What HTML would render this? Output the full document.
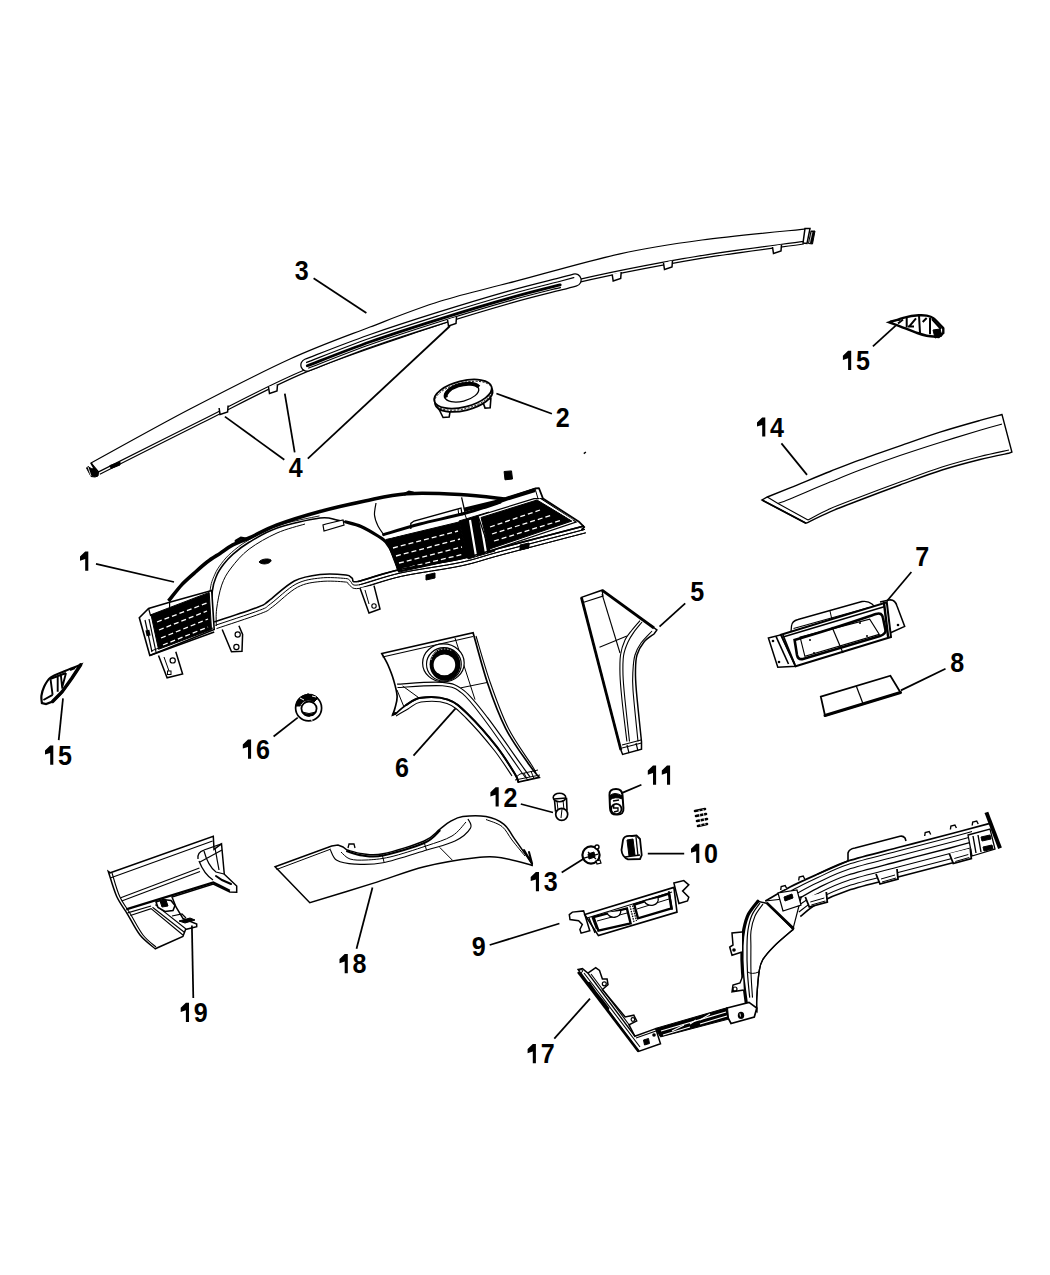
<!DOCTYPE html>
<html><head><meta charset="utf-8">
<style>
html,body{margin:0;padding:0;background:#fff;width:1050px;height:1275px;overflow:hidden}
svg{display:block}
.lb{font-family:"Liberation Sans",sans-serif;font-weight:bold;font-size:27px;fill:#000}
.ld{stroke:#000;stroke-width:1.75;fill:none}
.o{stroke:#000;stroke-width:2;fill:#fff;stroke-linejoin:round}
.oo{stroke:#000;stroke-width:1.6;fill:none;stroke-linejoin:round}
.t{stroke:#000;stroke-width:1;fill:none}
.tw{stroke:#000;stroke-width:1;fill:#fff}
.f{fill:#000;stroke:none}
.fs{fill:#000;stroke:#000;stroke-width:1;stroke-linejoin:round}
.k{stroke:#000;stroke-width:3;fill:none;stroke-linecap:round}
</style></head><body>
<svg width="1050" height="1275" viewBox="0 0 1050 1275">
<rect width="1050" height="1275" fill="#fff"/>
<path class="o" d="M91.0 463.0 C107.5 454.0 156.8 426.3 190.0 409.0 C223.2 391.7 260.0 372.7 290.0 359.0 C320.0 345.3 345.0 336.6 370.0 327.0 C395.0 317.4 415.8 308.9 440.0 301.3 C464.2 293.7 485.0 289.3 515.0 281.4 C545.0 273.5 588.8 260.7 620.0 253.8 C651.2 246.9 670.4 244.2 702.0 240.0 C733.6 235.8 791.6 230.5 809.5 228.6 L803.4 241.4 C783.3 244.3 725.2 251.1 683.0 258.7 C640.8 266.2 593.8 275.1 550.0 286.7 C506.2 298.3 461.0 314.6 420.0 328.5 C379.0 342.4 340.5 354.8 303.8 370.2 C267.1 385.6 234.2 404.1 200.0 421.0 C165.8 437.9 115.5 463.4 98.6 471.9 Z" style="stroke-width:1.2"/>
<path class="t" d="M99.8 474.2 C116.7 465.7 167.0 440.3 201.2 423.3 C235.3 406.4 268.2 388.0 304.8 372.6 C341.4 357.2 379.9 344.9 420.8 331.0 C461.8 317.1 506.9 300.8 550.7 289.2 C594.4 277.6 641.3 268.8 683.5 261.3 C725.6 253.7 783.7 246.9 803.8 244.0" style="stroke-width:1.2"/>
<path class="k" d="M307.0 365.0 C317.5 361.0 347.8 348.8 370.0 341.0 C392.2 333.2 416.7 325.3 440.0 318.0 C463.3 310.7 490.0 302.7 510.0 297.0 C530.0 291.3 549.2 286.8 560.0 284.0 C570.8 281.2 572.5 280.7 575.0 280.0" style="stroke-width:13.5;stroke-linecap:round"/>
<path class="k" d="M307.0 365.0 C317.5 361.0 347.8 348.8 370.0 341.0 C392.2 333.2 416.7 325.3 440.0 318.0 C463.3 310.7 490.0 302.7 510.0 297.0 C530.0 291.3 549.2 286.8 560.0 284.0 C570.8 281.2 572.5 280.7 575.0 280.0" style="stroke:#fff;stroke-width:11;stroke-linecap:round"/>
<path class="t" d="M306.1 362.6 C316.6 358.6 346.9 346.4 369.1 338.5 C391.3 330.7 415.9 322.9 439.2 315.5 C462.6 308.2 489.3 300.2 509.3 294.5 C529.3 288.8 548.5 284.3 559.3 281.5 C570.2 278.6 571.8 278.2 574.3 277.5" style="stroke-width:1.2"/>
<path class="k" d="M307.3 365.8 C317.8 361.8 348.1 349.7 370.3 341.8 C392.5 334.0 416.9 326.2 440.3 318.9 C463.6 311.5 490.3 303.5 510.2 297.9 C530.2 292.2 551.9 287.0 560.2 284.9" style="stroke-width:2.8"/>
<path class="t" d="M308.2 368.2 C318.7 364.2 349.0 352.0 371.1 344.2 C393.3 336.4 417.7 328.6 441.0 321.2 C464.3 313.9 491.0 305.9 510.9 300.3 C530.9 294.6 552.5 289.5 560.9 287.3" style="stroke-width:1.2"/>
<path class="fs" d="M86.5 468 L88 466.5 L92 469 L94 468 L98.6 472 L98 476 L95 477 L91 476.5 Z"/>
<path class="t" d="M91 463 L95.7 471" style="stroke-width:1.6"/>
<path class="t" d="M88 467 L91 476" style="stroke:#fff;stroke-width:0.8"/>
<path class="fs" d="M110 465 l1 3.5 l9 -3.5 l0 -3.5"/>
<path class="tw" d="M805 228.5 L810 228.6 L807 243.4 L803 243 Z" style="stroke-width:1.5"/>
<path class="fs" d="M811 231 L815 231 L812.5 244 L808.5 243.5 Z"/>
<path class="t" d="M812 232 L809.5 243" style="stroke:#fff;stroke-width:0.8"/>
<path class="tw" d="M219.1 408.0 l1 6.5 l7.5 -2.5 l0.5 -6.5" style="stroke-width:1.5"/>
<path class="tw" d="M268.5 387.0 l1 6.5 l7.5 -2.5 l0.5 -6.5" style="stroke-width:1.5"/>
<path class="tw" d="M447.5 319.5 l1 6.5 l7.5 -2.5 l0.5 -6.5" style="stroke-width:1.5"/>
<path class="tw" d="M612.2 274.5 l1 6.5 l7.5 -2.5 l0.5 -6.5" style="stroke-width:1.5"/>
<path class="tw" d="M663.5 263.0 l1 6.5 l7.5 -2.5 l0.5 -6.5" style="stroke-width:1.5"/>
<path class="tw" d="M772.5 247.0 l1 6.5 l7.5 -2.5 l0.5 -6.5" style="stroke-width:1.5"/>
<g transform="translate(463,394) rotate(-14)"><path d="M-27 9 l2 9 l6 1 l3 -7 Z" class="tw" style="stroke-width:1.6"/><path d="M17 9 l1 10 l5 1 l3 -9 Z" class="tw" style="stroke-width:1.6"/><ellipse cx="0" cy="3.5" rx="29.5" ry="13" class="tw" style="stroke-width:1.8"/><ellipse cx="0" cy="0" rx="29.5" ry="13" class="tw" style="stroke-width:1.8"/><ellipse cx="0" cy="1.8" rx="29.5" ry="13" fill="none" stroke="#000" stroke-width="0.9" stroke-dasharray="2 1.5"/><ellipse cx="-1" cy="-1.5" rx="17.5" ry="8.5" fill="#fff" stroke="#000" stroke-width="1.3"/><path d="M-17.5 -0.5 A17.5 8.5 0 0 1 17 -3" fill="none" stroke="#000" stroke-width="4"/></g>
<path class="tw" d="M139.3 617.7 L148.6 608.5 L168.3 603.0 L191.4 572.0 L212.0 556.6 L236.0 541.0 L277.0 524.0 L320.0 511.0 L406.7 493.7 L460.0 494.5 L500.0 498.6 L507.0 498.6 L535.0 488.0 L539.0 488.0 L543.0 498.6 L578.6 521.4 L584.3 527.1 L581.4 533.0 L460.0 566.0 L400.0 576.0 L357.8 589.0 L348.0 582.0 L323.0 580.0 L294.3 588.0 L268.6 608.0 L258.3 613.0 L214.2 632.0 L149.8 655.5 Z" style="stroke:none"/>
<path class="k" d="M168.5 601.0 C170.7 598.4 177.1 589.8 181.4 585.1 C185.7 580.5 190.0 577.0 194.3 573.1 C198.6 569.2 202.8 565.3 207.1 562.0 C211.4 558.7 215.7 556.2 220.0 553.4 C224.3 550.5 228.0 547.5 232.8 544.9 C237.7 542.3 241.7 541.3 249.1 538.0 C256.5 534.7 265.2 529.4 277.0 525.0 C288.8 520.6 305.3 515.5 320.0 511.5 C334.7 507.5 350.6 504.0 365.0 501.0 C379.4 498.0 390.9 494.8 406.7 493.7 C422.5 492.6 443.6 493.6 460.0 494.5 C476.4 495.4 497.5 498.2 505.0 499.0" style="stroke-width:3.6;stroke-linecap:butt"/>
<path class="k" d="M236 541 l5 -3 l5 1" style="stroke-width:3"/>
<path class="k" d="M405 494 l4 -2 l4 1" style="stroke-width:3"/>
<path class="oo" d="M505.0 499.0 L535.0 488.5 L539.0 488.2 L543.0 498.6 L578.6 521.4 L584.3 527.1 L581.4 530.0" style="stroke-width:1.8"/>
<path class="t" d="M535.0 488.5 L538.0 498.6 L543.0 498.6"/>
<path class="oo" d="M212.0 624.0 C212.1 618.5 211.5 599.1 212.3 591.1 C213.1 583.1 214.8 580.1 216.6 575.7 C218.4 571.3 220.7 568.2 223.4 564.6 C226.1 561.0 228.5 558.0 232.8 554.3 C237.1 550.6 241.7 546.7 249.1 542.3 C256.5 537.9 265.4 532.0 277.2 528.0 C289.0 524.0 309.9 519.3 320.0 518.0 C330.1 516.7 331.2 519.0 338.0 520.4 C344.8 521.8 354.3 523.9 361.0 526.5 C367.7 529.1 373.8 533.4 378.0 536.0 C382.2 538.6 383.2 538.6 386.0 542.0 C388.8 545.4 392.4 551.7 394.5 556.2 C396.6 560.7 397.8 567.0 398.5 569.2" style="stroke-width:1.6"/>
<path class="t" d="M209.8 624.0 C209.9 618.5 209.3 599.1 210.1 590.9 C210.9 582.7 212.6 579.5 214.6 574.9 C216.5 570.2 218.8 567.0 221.6 563.3 C224.4 559.6 227.0 556.4 231.4 552.6 C235.7 548.8 240.5 544.9 248.0 540.4 C255.5 536.0 264.6 530.0 276.5 525.9 C288.4 521.8 312.3 517.5 319.5 515.9" style="stroke-width:0.9"/>
<path class="k" d="M346.0 522.0 C348.5 522.8 355.7 524.2 361.0 526.5 C366.3 528.8 373.8 533.4 378.0 536.0 C382.2 538.6 383.2 538.6 386.0 542.0 C388.8 545.4 392.4 551.7 394.5 556.2 C396.6 560.7 397.8 567.0 398.5 569.2" style="stroke-width:3.2"/>
<path class="t" d="M216.3 626.0 C216.4 623.2 215.7 615.9 216.6 609.1 C217.5 602.3 219.3 592.0 221.7 585.1 C224.1 578.2 226.5 574.0 231.1 568.0 C235.7 562.0 241.4 554.9 249.1 549.1 C256.8 543.3 267.7 537.2 277.0 533.0 C286.3 528.8 300.3 525.5 305.0 524.0"/>
<path class="t" d="M376.0 503.0 C375.8 505.0 374.2 511.2 374.5 515.0 C374.8 518.8 376.4 522.7 378.0 526.0 C379.6 529.3 383.0 533.5 384.0 535.0" style="stroke-width:1.2"/>
<path class="tw" d="M323 525 l1 6 l20 -6 l-1 -5 l-17 4 Z" style="stroke-width:1.2"/>
<path class="fs" d="M259 562 c2 -3 9 -4 12 -2 c1 3 -8 6 -12 2 Z"/>
<path class="oo" d="M214.2 622.0 C221.5 619.5 249.2 610.5 258.3 607.0 C267.4 603.5 262.6 605.3 268.6 601.0 C274.6 596.7 285.7 585.4 294.3 581.0 C302.9 576.6 311.4 575.5 320.0 574.5 C328.6 573.5 340.7 574.4 346.0 575.0 C351.3 575.6 350.0 576.9 352.0 578.0 C354.0 579.1 350.0 582.9 358.0 581.5 C366.0 580.1 383.0 573.2 400.0 569.5 C417.0 565.8 443.3 562.6 460.0 559.0 C476.7 555.4 479.3 553.5 500.0 548.0 C520.7 542.5 570.0 529.7 584.0 526.0" style="stroke-width:1.6"/>
<path class="t" d="M215.3 625.3 C222.7 622.8 250.3 613.8 259.6 610.3 C268.8 606.7 264.6 608.2 270.6 603.8 C276.7 599.5 287.6 588.4 295.9 584.1 C304.2 579.8 312.1 578.9 320.4 578.0 C328.7 577.0 340.6 578.0 345.6 578.5 C350.6 579.0 348.2 580.0 350.3 581.1 C352.5 582.2 350.2 586.3 358.6 584.9 C367.0 583.6 383.7 576.7 400.8 572.9 C417.8 569.2 444.0 566.0 460.7 562.4 C477.4 558.8 480.2 556.9 500.9 551.4 C521.6 545.9 570.9 533.1 584.9 529.4"/>
<path class="t" d="M216.5 628.6 C223.8 626.1 251.4 617.2 260.8 613.5 C270.2 609.9 266.6 611.1 272.7 606.7 C278.8 602.3 289.5 591.4 297.5 587.2 C305.5 583.0 312.9 582.3 320.8 581.5 C328.8 580.6 340.6 581.5 345.2 582.0 C349.9 582.4 346.3 583.1 348.7 584.2 C351.0 585.2 350.4 589.7 359.2 588.4 C368.0 587.1 384.5 580.1 401.5 576.3 C418.5 572.6 444.8 569.4 461.5 565.8 C478.2 562.2 481.1 560.3 501.8 554.8 C522.5 549.3 571.8 536.4 585.8 532.8"/>
<path class="t" d="M461.6 497.4 L465.3 513.5" style="stroke-width:1.3"/>
<path class="k" d="M383.6 534.6 C389.7 532.8 406.6 527.5 420.0 524.0 C433.4 520.5 450.7 517.1 464.0 513.5 C477.3 509.9 494.0 504.2 500.0 502.4" style="stroke-width:3"/>
<path class="t" d="M410.8 529.0 L410.8 523.4 L414.0 521.0 L461.0 508.0 L462.2 515.4" style="stroke-width:1.3"/>
<path class="t" d="M458.0 509.0 L459.0 516.0"/>
<path class="k" d="M464.0 509.8 L500.0 501.0 L507.0 498.6 L535.0 490.0" style="stroke-width:4;stroke-linecap:butt"/>
<path class="t" d="M464.0 512.0 L467.0 520.0"/>
<path class="tw" d="M139.3 617.7 L148.6 608.5 L169.6 602.3 L211.7 590.5 L214.2 629.5 L149.8 655.5 Z" style="stroke-width:1.6"/>
<path class="t" d="M148.6 608.5 L150.5 615.5 L169.6 609.0 L169.6 602.3" style="stroke-width:1.2"/>
<path class="fs" d="M151.0 614.7 L209.2 592.4 L211.5 629.5 L158.5 649.3 Z"/>
<path d="M157.0 622.0 L207.0 603.0" stroke="#fff" stroke-width="1.3" stroke-dasharray="5 3"/>
<path d="M159.0 630.0 L207.0 611.0" stroke="#fff" stroke-width="1.3" stroke-dasharray="5 3"/>
<path d="M161.0 638.0 L208.0 619.0" stroke="#fff" stroke-width="1.3" stroke-dasharray="5 3"/>
<path d="M163.0 645.0 L208.0 627.0" stroke="#fff" stroke-width="1.3" stroke-dasharray="5 3"/>
<path class="t" d="M145.0 620.0 L152.0 652.0" style="stroke-width:1.2"/>
<path class="t" d="M149.0 619.0 L156.0 652.0" style="stroke-width:1.2"/>
<rect x="146" y="630" width="4" height="6" fill="#000" transform="rotate(-12 148 633)"/>
<path class="fs" d="M386.0 539.5 L459.0 522.0 L467.8 557.0 L398.5 572.2 Z"/>
<path d="M393.0 548.0 L458.0 531.0" stroke="#fff" stroke-width="1.3" stroke-dasharray="5 3"/>
<path d="M396.0 556.0 L460.0 539.0" stroke="#fff" stroke-width="1.3" stroke-dasharray="5 3"/>
<path d="M399.0 563.0 L462.0 547.0" stroke="#fff" stroke-width="1.3" stroke-dasharray="5 3"/>
<path d="M402.0 569.0 L464.0 554.0" stroke="#fff" stroke-width="1.3" stroke-dasharray="5 3"/>
<path class="t" d="M390.0 537.0 L459.0 519.0" style="stroke:#fff;stroke-width:1.3"/>
<path class="fs" d="M459.0 521.0 L489.0 512.0 L495.0 551.0 L468.0 559.0 Z"/>
<path d="M470 520 L476 556 M480 517 L486 553" stroke="#fff" stroke-width="2.2"/>
<path class="tw" d="M478.0 516.0 L534.0 498.6 L541.0 498.6 L576.0 522.0 L490.0 551.0 Z" style="stroke-width:1.3"/>
<path class="fs" d="M481.0 517.5 L537.0 500.0 L572.0 521.0 L489.0 549.2 Z"/>
<path d="M490.0 527.0 L540.0 510.0" stroke="#fff" stroke-width="1.3" stroke-dasharray="5 3"/>
<path d="M492.0 534.0 L552.0 515.0" stroke="#fff" stroke-width="1.3" stroke-dasharray="5 3"/>
<path d="M494.0 541.0 L562.0 520.0" stroke="#fff" stroke-width="1.3" stroke-dasharray="5 3"/>
<path class="t" d="M539.0 499.0 L573.0 520.5" style="stroke:#fff;stroke-width:1.2"/>
<path class="fs" d="M426 575 l0 5 l9 -2 l0 -5 Z"/>
<path class="fs" d="M520 545 l0 5 l9 -2 l0 -5 Z"/>
<path class="oo" d="M358.0 581.5 C365.0 579.5 383.0 573.2 400.0 569.5 C417.0 565.8 443.3 562.6 460.0 559.0 C476.7 555.4 479.3 553.5 500.0 548.0 C520.7 542.5 570.0 529.7 584.0 526.0" style="stroke-width:1.6"/>
<path class="t" d="M359.0 584.9 C365.9 582.9 383.8 576.7 400.8 572.9 C417.7 569.2 444.0 566.0 460.7 562.4 C477.4 558.8 480.2 556.9 500.9 551.4 C521.6 545.9 570.9 533.1 584.9 529.4"/>
<path class="t" d="M359.9 588.2 C366.9 586.2 384.6 580.1 401.5 576.3 C418.4 572.6 444.8 569.4 461.5 565.8 C478.2 562.2 481.1 560.3 501.8 554.8 C522.5 549.3 571.8 536.4 585.8 532.8"/>
<path class="oo" d="M149.8 655.5 L214.2 632.0" style="stroke-width:1.8"/>
<path class="t" d="M151.0 651.0 L213.0 628.0"/>
<path class="tw" d="M158.5 655.5 L167.1 677.8 L182.6 674.0 L175.8 651.8" style="stroke-width:1.5"/>
<path class="t" d="M164 657 l5 14"/>
<circle cx="172.7" cy="660.4" r="2.6" fill="#fff" stroke="#000" stroke-width="1.2"/><rect x="167.5" y="671" width="3.5" height="3.5" fill="#fff" stroke="#000" stroke-width="1"/>
<path class="tw" d="M222.2 629.5 L231.5 651.8 L242.0 651.2 L242.6 634.5 L238.9 625.8" style="stroke-width:1.5"/>
<circle cx="237.7" cy="634.5" r="2.6" fill="#fff" stroke="#000" stroke-width="1.2"/><circle cx="236.4" cy="647" r="2.6" fill="#fff" stroke="#000" stroke-width="1.2"/>
<path class="tw" d="M360.0 588.0 L369.0 613.0 L380.0 609.0 L374.0 585.6" style="stroke-width:1.5"/>
<path class="t" d="M365 590 l4 14"/>
<circle cx="374" cy="606" r="2.2" fill="#fff" stroke="#000" stroke-width="1.1"/>
<path class="tw" d="M767.3 497.0 C771.1 495.5 779.5 492.1 790.0 487.8 C800.5 483.6 818.3 476.1 830.0 471.5 C841.7 466.9 848.3 464.2 860.0 459.9 C871.7 455.6 886.7 450.4 900.0 445.8 C913.3 441.2 926.7 436.3 940.0 432.1 C953.3 427.9 969.7 423.3 980.0 420.4 C990.3 417.5 998.3 415.5 1002.0 414.5 L1011.9 452 L1008.7 453.3 C1003.9 454.3 991.1 456.7 980.0 459.5 C968.9 462.3 955.3 465.8 942.0 470.0 C928.7 474.2 913.7 480.0 900.0 485.0 C886.3 490.0 871.7 495.5 860.0 500.0 C848.3 504.5 839.0 507.9 830.0 511.8 C821.0 515.7 810.0 521.3 806.0 523.2 L762 500 Z" style="stroke-width:1.4"/>
<path class="t" d="M778.0 503.5 C780.0 502.8 781.3 502.6 790.0 499.0 C798.7 495.4 818.3 486.9 830.0 482.1 C841.7 477.3 848.3 474.4 860.0 470.0 C871.7 465.6 886.7 460.2 900.0 455.6 C913.3 451.0 926.7 446.7 940.0 442.5 C953.3 438.3 969.7 433.3 980.0 430.2 C990.3 427.1 998.3 425.0 1002.0 424.0" style="stroke-width:1.1"/>
<path class="t" d="M1009.0 450.0 C1004.2 451.1 991.2 453.7 980.0 456.5 C968.8 459.3 955.3 462.8 942.0 467.0 C928.7 471.2 913.7 477.0 900.0 482.0 C886.3 487.0 871.7 492.5 860.0 497.0 C848.3 501.5 838.7 505.0 830.0 508.8 C821.3 512.6 811.7 518.1 808.0 520.0" style="stroke-width:1.1"/>
<path class="t" d="M767.3 497.0 L778.0 503.5 L808.0 520.0" style="stroke-width:1.1"/>
<path class="t" d="M762.0 500.0 L806.0 523.2" style="stroke-width:1.8"/>
<path class="tw" d="M889.3 322.3 C892.0 321.5 900.4 318.5 905.3 317.3 C910.2 316.1 915.1 315.6 918.7 315.3 C922.3 315.0 924.3 315.2 926.7 315.7 C929.1 316.2 930.5 316.2 933.3 318.3 C936.1 320.4 941.6 326.6 943.3 328.3 L943.3 333 L938.7 337 L938.7 337.0 C936.7 336.8 930.3 336.4 926.7 335.7 C923.1 335.0 921.8 334.6 917.3 333.0 C912.8 331.4 904.7 328.1 900.0 326.3 C895.3 324.5 891.1 323.0 889.3 322.3 Z" style="stroke-width:2.4"/>
<path class="t" d="M906.7 317 L906.7 327.5 M919 315.5 L920 333 M930 317.7 L930 334.3 M916 318.3 L909.3 326.3 M926.7 318 L922.7 322 M908 326.5 L914 326.5 M903 319.5 L898 323.5 M932 319 L941 329" style="stroke-width:2"/>
<path class="fs" d="M933 330 L940 329 L942 336 L935 338 Z"/>
<path class="t" d="M890 321.5 L900 320" style="stroke-width:1.4"/>
<path class="tw" d="M880 602 L889 600 Q895 599 897 606 L904.7 626.4 L890 633" style="stroke-width:1.5"/>
<circle cx="898" cy="625" r="1.3" fill="#000"/>
<path class="tw" d="M791 632 L791.5 626 Q792 621 798 619.5 L862 601.5 Q868 600.5 872 604 L877 609 L880 625 L795 650 Z" style="stroke-width:1.3"/>
<path class="t" d="M793.5 628.5 L869.0 607.5" style="stroke-width:1.1"/>
<path class="t" d="M830.0 611.0 L832.0 620.0"/>
<path class="tw" d="M768.4 638.0 L781.0 634.8 L795.6 666.3 L777.8 667.3 Z" style="stroke-width:1.5"/>
<circle cx="773" cy="641" r="1.3" fill="#000"/><circle cx="779" cy="662" r="1.3" fill="#000"/>
<path class="tw" d="M781.0 634.8 L886.8 602.3 L891.0 637.0 L795.6 666.3 Z" style="stroke-width:2"/>
<path class="t" d="M783.0 637.0 L885.0 606.5" style="stroke-width:1.4"/>
<path class="k" d="M884.0 603.0 L888.0 636.0" style="stroke-width:2.4"/>
<path class="tw" d="M794.6 640.0 C802.2 637.7 826.4 630.3 840.0 626.0 C853.6 621.7 870.0 616.0 876.0 614.0 Q882 612 883 618 L885.5 630 Q886 634 880 636 L803 659 Q798 660 797 655 Z" style="stroke-width:2.6"/>
<path class="t" d="M800.1 637.1 L869.7 619.2 L879.3 634.4 L804.9 656.4 Z" style="stroke-width:1.1"/>
<path class="t" d="M776.0 636.4 L788.5 664.0" style="stroke-width:1.6"/>
<path class="t" d="M783.0 635.0 L794.7 664.0" style="stroke-width:1.6"/>
<path class="t" d="M832.0 627.0 L843.0 653.0" style="stroke-width:1.2"/>
<circle cx="814" cy="653" r="1" fill="#000"/><circle cx="867" cy="636" r="1" fill="#000"/><circle cx="810" cy="640" r="1" fill="#000"/><circle cx="860" cy="623" r="1" fill="#000"/>
<path class="tw" d="M820.8 696.7 L890.4 675.7 L900.5 692.5 L825.0 715.5 Z" style="stroke-width:1.8"/>
<path class="k" d="M825.0 715.5 L900.5 692.5" style="stroke-width:3"/>
<path class="t" d="M856.4 686.2 L862.7 703.0" style="stroke-width:1.2"/>
<path class="tw" d="M581.4 597.4 L602.0 590.2 L656.9 630.0 L654.0 634.0 L654.0 634.0 C652.3 635.3 646.8 638.5 644.0 642.0 C641.2 645.5 638.4 650.3 637.0 655.0 C635.6 659.7 635.6 664.2 635.5 670.0 C635.4 675.8 635.3 678.1 636.3 690.0 C637.3 701.9 640.6 732.9 641.5 741.5 L641.5 749.2 L622.6 754.4 L620.9 750 Z" style="stroke-width:1.5"/>
<path class="k" d="M581.4 597.4 L620.9 750.0" style="stroke-width:2.8;stroke-linecap:butt"/>
<path class="k" d="M602.0 590.2 L654.0 628.0" style="stroke-width:2.8;stroke-linecap:butt"/>
<path class="t" d="M583.0 602.5 L603.0 596.0 L602.0 590.2" style="stroke-width:1.2"/>
<path class="t" d="M602.0 594.0 L620.0 653.0" style="stroke-width:1.1"/>
<path class="t" d="M599.5 647.2 L626.9 636.0" style="stroke-width:1.1"/>
<path class="t" d="M640.0 620.6 C638.7 622.2 634.5 626.8 632.0 630.0 C629.5 633.2 626.9 635.8 625.0 640.0 C623.1 644.2 621.3 649.2 620.5 655.0 C619.7 660.8 619.8 667.5 620.0 675.0 C620.2 682.5 620.9 688.9 622.0 700.0 C623.1 711.1 626.1 734.6 626.9 741.5" style="stroke-width:1.1"/>
<path class="t" d="M642.0 622.0 C640.7 623.7 636.3 628.7 634.0 632.0 C631.7 635.3 629.8 638.0 628.0 642.0 C626.2 646.0 624.3 650.5 623.5 656.0 C622.7 661.5 622.8 667.7 623.0 675.0 C623.2 682.3 623.9 688.9 625.0 700.0 C626.1 711.1 628.8 734.6 629.5 741.5" style="stroke-width:1.1"/>
<path class="t" d="M652.0 631.0 C650.2 633.0 643.8 639.0 641.0 643.0 C638.2 647.0 636.3 650.5 635.0 655.0 C633.7 659.5 633.3 664.2 633.0 670.0 C632.7 675.8 632.2 678.1 633.0 690.0 C633.8 701.9 637.2 732.9 638.0 741.5" style="stroke-width:1.1"/>
<path class="t" d="M622.0 745.0 L641.0 740.0" style="stroke-width:1.1"/>
<path class="t" d="M622.0 748.0 L641.5 743.0" style="stroke-width:1.1"/>
<path class="t" d="M627.0 745.0 L629.0 753.0" style="stroke-width:1.1"/>
<path class="t" d="M636.0 743.0 L638.0 751.0" style="stroke-width:1.1"/>
<path class="tw" d="M381.8 653.5 C382.8 655.4 386.1 660.6 388.0 665.0 C389.9 669.4 392.0 674.5 393.5 679.7 C395.0 684.9 396.9 691.3 397.1 696.0 C397.4 700.7 395.8 704.8 395.0 708.0 C394.2 711.2 393.0 713.8 392.6 715.0 L395.3 714.0 C397.1 712.5 402.0 707.7 406.2 705.0 C410.4 702.3 413.8 698.7 420.7 697.8 C427.6 696.9 440.0 696.9 447.8 699.6 C455.6 702.3 459.6 706.1 467.7 714.0 C475.8 721.9 488.9 736.7 496.7 746.7 C504.5 756.7 511.2 767.9 514.8 773.8 C518.4 779.7 517.8 780.6 518.4 782.0 L539.2 777.4 L539.2 777.4 C537.5 775.3 534.8 772.9 529.2 764.8 C523.6 756.7 512.6 742.2 505.7 728.6 C498.8 715.0 493.0 699.3 487.6 683.3 C482.2 667.3 475.5 641.1 473.1 632.7 Z" style="stroke-width:1.7"/>
<path class="t" d="M382.5 657.0 L473.0 636.5" style="stroke-width:1.1"/>
<path class="t" d="M476.0 636.0 C478.4 643.9 485.1 667.9 490.5 683.3 C495.9 698.7 501.7 715.0 508.5 728.6 C515.3 742.2 526.9 757.4 531.5 764.8 C536.1 772.2 535.2 771.6 536.0 773.0" style="stroke-width:1.1"/>
<path class="t" d="M396.0 716.0 C398.0 714.8 403.8 711.3 408.0 709.0 C412.2 706.7 414.5 702.9 421.0 702.0 C427.5 701.1 439.5 700.8 447.0 703.5 C454.5 706.2 458.2 710.2 466.0 718.0 C473.8 725.8 486.3 740.3 494.0 750.0 C501.7 759.7 509.0 771.7 512.0 776.0" style="stroke-width:1.1"/>
<path class="k" d="M406.2 705.0 C408.6 703.8 413.8 698.7 420.7 697.8 C427.6 696.9 440.0 696.9 447.8 699.6 C455.6 702.3 459.6 706.1 467.7 714.0 C475.8 721.9 488.9 736.7 496.7 746.7 C504.5 756.7 511.2 767.9 514.8 773.8 C518.4 779.7 517.8 780.6 518.4 782.0" style="stroke-width:2"/>
<path class="t" d="M397.1 684.2 C404.7 683.9 431.2 681.3 442.4 682.4 C453.6 683.5 456.6 684.7 464.1 690.6 C471.6 696.5 477.7 704.7 487.6 717.7 C497.6 730.7 516.7 758.5 523.8 768.4 C530.9 778.3 529.0 775.6 530.0 777.0" style="stroke-width:1.2"/>
<path class="t" d="M397.5 687.5 C405.0 687.2 431.6 684.8 442.4 685.8 C453.2 686.8 455.4 687.8 462.5 693.6 C469.6 699.4 475.4 707.8 485.0 720.5 C494.6 733.2 513.2 760.4 520.0 770.0 C526.8 779.6 525.0 776.7 526.0 778.0" style="stroke-width:1.1"/>
<path class="t" d="M455.0 638.0 L475.0 699.6"/>
<path class="t" d="M460.5 687.9 L487.6 682.4"/>
<path class="t" d="M402.6 686.0 L418.9 697.8"/>
<path class="t" d="M397.0 690.0 L404.0 707.0"/>
<path class="t" d="M516.0 777.0 L520.0 774.0 L538.0 770.0"/>
<path class="t" d="M515.0 780.0 L540.0 775.0"/>
<path class="t" d="M524.0 773.0 L528.0 781.0"/>
<path class="t" d="M531.0 771.0 L534.0 779.0"/>
<ellipse cx="443.4" cy="662.9" rx="20.8" ry="19" fill="#fff" stroke="#000" stroke-width="1.2"/>
<ellipse cx="443.9" cy="664.3" rx="17.4" ry="16.7" fill="none" stroke="#000" stroke-width="1.1"/>
<ellipse cx="445" cy="664.3" rx="15.4" ry="16.5" fill="#000"/>
<ellipse cx="444.4" cy="664.9" rx="10.8" ry="10.3" fill="#fff"/>
<path d="M431 660 A14 14 0 0 1 452 651" fill="none" stroke="#fff" stroke-width="0.8" stroke-dasharray="1.5 1.5"/>
<path class="t" d="M392.6 715 q2 -3 4 -1" style="stroke-width:2.2"/>
<circle cx="308.6" cy="707.9" r="13" fill="#fff" stroke="#000" stroke-width="1.7"/>
<path class="fs" d="M296 706 A13 13 0 0 1 318 698 L314 702 A9 9 0 0 0 300 706 Z"/>
<ellipse cx="309" cy="708.5" rx="7.6" ry="7" fill="#fff" stroke="#000" stroke-width="1.8"/>
<path class="fs" d="M302 712 A7.6 7 0 0 0 316 712 Q309 715 302 712 Z"/>
<path class="t" d="M300 698 l4 2 M312 696 l4 1 M311 716 l1 5" style="stroke:#fff;stroke-width:1"/>
<path class="t" d="M308 693.5 l0 2" style="stroke-width:2"/>
<path class="tw" d="M80.7 664.8 C78.1 665.8 70.0 668.9 65.0 671.0 C60.0 673.1 54.1 674.8 50.6 677.5 C47.1 680.2 45.5 683.9 44.0 687.0 C42.5 690.1 41.8 693.2 41.4 695.9 C41.0 698.6 41.8 701.8 41.9 703.0 L46 704 L52.6 701.5 L52.6 701.5 C54.2 699.9 58.8 695.9 62.0 692.0 C65.2 688.1 68.9 682.5 72.0 678.0 C75.1 673.5 79.2 667.0 80.7 664.8 Z" style="stroke-width:2.2"/>
<path class="k" d="M52.6 701.5 L62.0 692.0 L72.0 678.0 L80.7 664.8" style="stroke-width:3.4"/>
<path class="t" d="M50.6 679.6 L52.6 694.9 M57.7 675.5 L57.7 691.8 M60.8 674.5 L62.3 688.7 M50 679 L66 673 M43.4 700 L52.6 694.9 M66 673 L62 688 M70 670 L75 668" style="stroke-width:1.9"/>
<path class="tw" d="M554.4 799 L555.5 811 L567 810 L566.5 797.9" style="stroke-width:1.6"/>
<ellipse cx="559.5" cy="797.5" rx="6.3" ry="4.2" fill="#fff" stroke="#000" stroke-width="1.6"/>
<path class="t" d="M554 799 L566 798" style="stroke-width:1.5"/>
<path class="t" d="M557 801 L558 810 M563 800 L564 810"/>
<circle cx="561.7" cy="814.3" r="6" fill="#fff" stroke="#000" stroke-width="1.7"/>
<path class="t" d="M562 809 L561 818"/>
<path class="tw" d="M609.5 795 Q609 789 616 789 Q622 789 622.5 795 L623.4 808 Q624 815 617 814.6 Q610 815 610 808 Z" style="stroke-width:2"/>
<path class="fs" d="M609.7 796 Q614 791 622.5 796 L622.5 799 Q615 796 609.8 800 Z"/>
<circle cx="616.3" cy="809" r="5.2" fill="#fff" stroke="#000" stroke-width="1.8"/>
<path class="t" d="M614 804 L613.5 808 L618 808 L618 811 L614 812" style="stroke-width:1.3"/>
<path class="t" d="M613 801 L619 800" style="stroke-width:1.6"/>
<path class="k" d="M695 811 l10 -2 M696 816 l10 -2 M697 821 l10 -2 M698 826 l9 -2" style="stroke-width:2.6;stroke-linecap:round"/>
<path class="t" d="M699 810 l2 16 M703 809 l2 16" style="stroke:#fff;stroke-width:0.8"/>
<path class="tw" d="M623 840 Q624 835 632 836 L636.5 835.5 L640 839 L641.7 855 L640 859 L628 859.3 Q622 857 621.5 850 Z" style="stroke-width:1.8"/>
<path class="fs" d="M627 840 L629 856 L635 855 L633 839 Z"/>
<path class="t" d="M636 837 L638 856" style="stroke-width:1.3"/>
<path class="t" d="M625 857 L640 855" style="stroke-width:1.3"/>
<circle cx="591" cy="855" r="8.6" fill="#fff" stroke="#000" stroke-width="2.2"/>
<circle cx="597" cy="847" r="2" fill="#fff" stroke="#000" stroke-width="1.4"/>
<path class="t" d="M584 858 L598 854 M588 852 L596 859" style="stroke-width:1.3"/>
<path class="fs" d="M588 854 L594 852 L595 857 L589 859 Z"/>
<path class="tw" d="M596 861 l4 -1 l1 3 l-4 1 Z" style="stroke-width:1.2"/>
<path class="tw" d="M569.3 914.6 L572.4 912.1 L583.6 910.9 L589.8 930.7 L581.1 933.2 L579.9 929.5 L582.3 924.5 L578.6 920.8 L570.0 919.6 Z" style="stroke-width:1.5"/>
<path class="tw" d="M673.9 883.0 L683.8 880.6 L688.8 884.9 L682.6 891.1 L688.8 897.3 L687.5 901.0 L678.9 903.5 Z" style="stroke-width:1.5"/>
<path class="tw" d="M584.8 914.6 L673.9 887.4 L677.0 912.1 L598.4 935.6 Z" style="stroke-width:1.6"/>
<path class="t" d="M587.0 918.0 L672.0 892.0" style="stroke-width:1.1"/>
<path class="tw" d="M593.5 917.1 L626.9 908.4 L630.6 923.3 L598.4 930.7 Z" style="stroke-width:2.4"/>
<path class="tw" d="M634.3 904.7 L669.0 893.6 L671.4 908.4 L638.0 918.3 Z" style="stroke-width:2.4"/>
<path class="t" d="M597.0 921.0 L627.0 913.0"/>
<path class="t" d="M637.0 909.0 L669.0 899.0"/>
<path class="tw" d="M607.1 912.5 A6.8 5.5 0 0 0 620.7 911 " style="stroke-width:1.3"/>
<path class="tw" d="M644.4 901.3 A6.8 5.5 0 0 0 658 898" style="stroke-width:1.3"/>
<path class="t" d="M630 906 L634 922 M632.5 905.5 L636.5 921" style="stroke-width:1.3;stroke-dasharray:1.5 1"/>
<path class="t" d="M589 918 L595 933 M592 917 L596.5 929" style="stroke-width:1.3"/>
<path class="k" d="M669 892 L672 909" style="stroke-width:1.8"/>
<path class="tw" d="M275.1 866.7 L331.7 846.1 L338.0 845.0 L343.0 847.0 L347.0 850.0 L347.0 850.0 C349.6 850.6 356.5 853.2 362.5 853.8 C368.5 854.4 372.7 855.9 383.0 853.8 C393.3 851.7 414.8 845.1 424.2 841.0 C433.6 836.9 435.4 832.6 439.7 829.4 C444.0 826.2 446.1 823.8 450.0 821.7 C453.9 819.6 456.8 817.5 462.8 816.6 C468.8 815.8 479.1 815.3 486.0 816.6 C492.9 817.9 499.3 820.7 504.0 824.3 C508.7 827.9 509.5 831.8 514.2 838.4 C518.9 845.0 529.2 859.8 532.2 864.1 L532.2 865.4 C527.1 864.1 510.8 859.0 501.4 857.7 C492.0 856.4 488.6 856.2 475.7 857.7 C462.8 859.2 441.3 862.4 424.2 866.7 C407.1 871.0 391.9 877.4 372.8 883.4 C353.7 889.4 320.3 899.5 309.8 902.7 Z" style="stroke-width:1.5"/>
<path class="t" d="M276.5 869.5 L331.0 849.0" style="stroke-width:1"/>
<path class="t" d="M330.4 850.0 C331.5 851.7 332.7 857.9 336.8 860.3 C340.9 862.6 347.1 863.7 354.8 864.1 C362.5 864.5 371.0 865.1 383.0 862.8 C395.0 860.4 414.8 853.6 426.8 850.0 C438.8 846.4 447.7 844.6 455.0 841.0 C462.3 837.4 468.3 831.8 470.5 828.1 C472.7 824.4 468.4 820.5 468.0 819.0" style="stroke-width:1.1"/>
<path class="t" d="M341.0 852.0 C342.5 853.2 345.8 857.7 350.0 859.0 C354.2 860.3 359.3 860.3 366.0 860.0 C372.7 859.7 380.0 859.3 390.0 857.0 C400.0 854.7 415.7 849.5 426.0 846.0 C436.3 842.5 445.3 840.0 452.0 836.0 C458.7 832.0 463.7 824.3 466.0 822.0" style="stroke-width:1"/>
<path class="k" d="M347.0 851.3 C349.6 852.0 356.5 854.8 362.5 855.5 C368.5 856.2 372.7 857.6 383.0 855.5 C393.3 853.4 414.8 847.1 424.2 843.0 C433.6 838.9 437.1 832.8 439.7 830.7" style="stroke-width:2"/>
<path class="t" d="M439.7 847.4 L452.5 860.3"/>
<path class="t" d="M424.0 842.0 L426.5 850.0"/>
<path class="t" d="M382.0 854.0 L384.0 862.0"/>
<path class="t" d="M486.0 819.5 C488.7 820.7 497.7 823.1 502.0 826.5 C506.3 829.9 508.2 835.1 512.0 840.0 C515.8 844.9 522.8 853.3 525.0 856.0" style="stroke-width:1"/>
<path class="k" d="M524.0 850.0 L532.2 864.1 L529.0 852.0" style="stroke-width:2"/>
<path class="t" d="M348 848 l1 -4 l5 0 l1 4" style="stroke-width:1.3"/>
<path class="tw" d="M110.4 872.8 L213.3 836.2 L214.0 849.3 L221.5 843.8 L224.3 874.2 L236.7 886.0 L236.7 892.2 L229.8 892.0 L213.3 884.0 L172.0 897.0 L176.0 907.0 L182.9 918.4 L196.7 924.0 L196.7 926.7 L185.6 929.4 L182.9 936.4 L155.2 948.8 L155.2 948.8 C152.7 946.5 144.6 940.8 140.0 935.0 C135.4 929.2 131.5 920.8 127.6 914.3 C123.7 907.8 119.8 903.4 116.6 896.3 C113.4 889.1 109.7 875.5 108.3 871.4 Z" style="stroke-width:1.5"/>
<path class="t" d="M111.0 877.7 L212.6 841.0" style="stroke-width:1.1"/>
<path class="t" d="M112.0 873.0 C113.3 876.9 116.5 889.4 119.6 896.3 C122.7 903.2 126.7 907.8 130.6 914.3 C134.5 920.8 138.8 929.5 143.0 935.0 C147.2 940.5 153.8 945.0 156.0 947.0" style="stroke-width:1.1"/>
<path class="t" d="M120.7 897.7 L199.4 868.0" style="stroke-width:1.1"/>
<path class="t" d="M121.7 901.0 L200.0 871.5" style="stroke-width:1.1"/>
<path class="k" d="M126.2 909.4 L213.3 882.5 L221.5 886.6 L229.8 890.8" style="stroke-width:2.2;stroke-linecap:butt"/>
<path class="t" d="M127.6 912.9 L151.1 906.0" style="stroke-width:1.2"/>
<path class="t" d="M130.4 915.6 L151.1 908.7 L182.9 935.0" style="stroke-width:1.1"/>
<path class="t" d="M152.5 907.3 L184.3 932.2" style="stroke-width:1.1"/>
<path class="t" d="M155.2 904.6 L186.0 929.0" style="stroke-width:1.1"/>
<path class="t" d="M198 859 Q197 852 204 850 L221.5 843.8" style="stroke-width:1.3"/>
<path class="t" d="M199 861 Q204 874 213 880" style="stroke-width:1.3"/>
<path class="t" d="M204 851 Q208 866 216 872 L224 874" style="stroke-width:1.2"/>
<path class="t" d="M215 848 L219 870" style="stroke-width:1.2"/>
<path class="t" d="M200.0 862.0 L222.0 850.0" style="stroke-width:1.2"/>
<path class="k" d="M216 876 L222 880 L231 884" style="stroke-width:2"/>
<path class="tw" d="M156 902 l7 -2.5 l8 1 l4 5 l-2 5 l-8 1 l-7 -4 Z" style="stroke-width:1.6"/>
<path class="fs" d="M160 901 l6 -1 l2 6 l-6 1 Z"/>
<path class="t" d="M172 916 l10 -2 l4 4" style="stroke-width:1.2"/>
<path class="fs" d="M179 921 l11 -3 l5 2 l-10 3 Z"/>
<path class="tw" d="M765.3 901.0 L817.3 874.3 L848.0 861.0 L900.0 851.7 L989.0 823.6 L986.4 812.4 L1000.0 848.3 L971.6 852.0 L900.0 867.7 L801.3 897.0 L793.2 928.2 Z" style="stroke:none"/>
<path class="tw" d="M817.3 874.3 L848.0 861.0 L848 853 Q849 849 855 848 L900 836.3 Q903 835.5 905 838 L906 841" style="stroke-width:1.6"/>
<path class="oo" d="M765.3 901.0 C769.4 898.7 781.3 891.5 790.0 887.0 C798.7 882.5 807.6 878.6 817.3 874.3 C827.0 870.0 834.2 865.5 848.0 861.0 C861.8 856.5 883.0 851.5 900.0 847.0 C917.0 842.5 935.2 837.9 950.0 834.0 C964.8 830.1 982.5 825.3 989.0 823.6" style="stroke-width:1.8"/>
<path class="t" d="M791.2 890.5 C795.6 888.4 807.8 882.1 817.3 877.8 C826.8 873.5 834.2 869.0 848.0 864.5 C861.8 860.0 883.0 855.0 900.0 850.5 C917.0 846.0 938.0 840.7 950.0 837.5 C962.0 834.3 968.3 832.5 972.0 831.5" style="stroke-width:1.1"/>
<path class="t" d="M793.0 895.5 C797.0 893.4 808.1 887.1 817.3 882.8 C826.5 878.5 834.2 874.0 848.0 869.5 C861.8 865.0 883.0 860.0 900.0 855.5 C917.0 851.0 938.0 845.7 950.0 842.5 C962.0 839.3 968.3 837.5 972.0 836.5" style="stroke-width:1.1"/>
<path class="t" d="M794.9 901.0 C798.6 898.9 808.4 892.6 817.3 888.3 C826.1 884.0 834.2 879.5 848.0 875.0 C861.8 870.5 883.0 865.5 900.0 861.0 C917.0 856.5 938.0 851.2 950.0 848.0 C962.0 844.8 968.3 843.0 972.0 842.0" style="stroke-width:1.3"/>
<path class="t" d="M796.8 906.5 C800.2 904.4 808.8 898.1 817.3 893.8 C825.8 889.5 834.2 885.0 848.0 880.5 C861.8 876.0 883.0 871.0 900.0 866.5 C917.0 862.0 938.0 856.7 950.0 853.5 C962.0 850.3 968.3 848.5 972.0 847.5" style="stroke-width:1.1"/>
<path class="t" d="M798.8 912.0 C801.8 909.9 809.1 903.6 817.3 899.3 C825.5 895.0 834.2 890.5 848.0 886.0 C861.8 881.5 883.0 876.5 900.0 872.0 C917.0 867.5 938.0 862.2 950.0 859.0 C962.0 855.8 968.3 854.0 972.0 853.0" style="stroke-width:1.1"/>
<path class="t" d="M800.3 916.5 C803.2 914.4 809.4 908.1 817.3 903.8 C825.2 899.5 834.2 895.0 848.0 890.5 C861.8 886.0 883.0 881.0 900.0 876.5 C917.0 872.0 938.0 866.7 950.0 863.5 C962.0 860.3 968.3 858.5 972.0 857.5" style="stroke-width:1.6"/>
<path class="k" d="M986.4 812.4 L1000.0 848.3" style="stroke-width:4;stroke-linecap:butt"/>
<path class="tw" d="M968.0 835.0 L990.0 829.0 L995.0 849.0 L972.0 856.0 Z" style="stroke-width:1.3"/>
<path class="t" d="M973 836 L976 853 M978 835 L981 852" style="stroke-width:1.4"/>
<path class="fs" d="M981 837 l9 -2 l1 4 l-9 2 Z M983 847 l9 -2 l1 4 l-9 2 Z"/>
<path class="tw" d="M780.7 890.0 l0.5 -3.5 l4 -1 l1.5 3" style="stroke-width:1.4"/>
<path class="tw" d="M798.7 880.5 l0.5 -3.5 l4 -1 l1.5 3" style="stroke-width:1.4"/>
<path class="tw" d="M924.7 836.0 l0.5 -3.5 l4 -1 l1.5 3" style="stroke-width:1.4"/>
<path class="tw" d="M950.4 829.5 l0.5 -3.5 l4 -1 l1.5 3" style="stroke-width:1.4"/>
<path class="tw" d="M972.2 825.5 l0.5 -3.5 l4 -1 l1.5 3" style="stroke-width:1.4"/>
<path class="tw" d="M805.3 897.0 l4 10 l18 -5 l-1 -10" style="stroke-width:1.8"/>
<path class="t" d="M810.3 902.0 l14 -4 M811.3 905.0 l14 -4"/>
<path class="tw" d="M876.0 874.0 l4 10 l18 -5 l-1 -10" style="stroke-width:1.8"/>
<path class="t" d="M881.0 879.0 l14 -4 M882.0 882.0 l14 -4"/>
<path class="tw" d="M949.3 853.5 l4 10 l18 -5 l-1 -10" style="stroke-width:1.8"/>
<path class="t" d="M954.3 858.5 l14 -4 M955.3 861.5 l14 -4"/>
<path class="tw" d="M757.9 901.2 C756.3 903.4 750.9 909.4 748.5 914.1 C746.1 918.8 744.9 924.1 743.8 929.4 C742.7 934.7 742.2 938.6 742.0 945.9 C741.8 953.2 741.9 963.6 742.6 973.0 C743.3 982.4 745.6 997.5 746.2 1002.4 L756.8 1011.8 L756.8 1011.8 C756.8 1009.4 756.4 1004.3 756.8 997.6 C757.2 990.9 758.1 978.1 759.1 971.8 C760.1 965.5 760.1 964.3 762.6 960.0 C765.1 955.7 769.3 951.0 774.4 945.9 C779.5 940.8 790.1 932.1 793.2 929.4 L767.4 903.5 Z" style="stroke-width:1.4"/>
<path class="k" d="M757.9 901.2 C756.3 903.4 750.9 909.4 748.5 914.1 C746.1 918.8 744.9 924.1 743.8 929.4 C742.7 934.7 742.2 938.6 742.0 945.9 C741.8 953.2 741.9 963.6 742.6 973.0 C743.3 982.4 745.6 997.5 746.2 1002.4" style="stroke-width:3.2"/>
<path class="t" d="M760.0 903.0 C758.7 905.0 754.0 910.5 752.0 915.0 C750.0 919.5 748.8 924.8 748.0 930.0 C747.2 935.2 747.1 938.8 747.0 946.0 C746.9 953.2 747.0 964.4 747.5 973.0 C748.0 981.6 749.3 993.5 749.7 997.6" style="stroke-width:1.2"/>
<path class="t" d="M763.0 904.0 C761.7 906.0 757.0 911.5 755.0 916.0 C753.0 920.5 751.7 926.0 751.0 931.0 C750.3 936.0 750.9 939.0 750.9 946.0 C750.9 953.0 750.7 964.4 751.0 973.0 C751.3 981.6 752.2 993.5 752.5 997.6" style="stroke-width:1.1"/>
<path class="t" d="M793.2 929.4 C790.1 932.1 779.5 940.8 774.4 945.9 C769.3 951.0 765.1 955.7 762.6 960.0 C760.1 964.3 760.1 965.5 759.1 971.8 C758.1 978.1 757.2 990.9 756.8 997.6 C756.4 1004.3 756.8 1009.4 756.8 1011.8" style="stroke-width:1.3"/>
<path class="k" d="M767.4 903.5 L793.2 928.2" style="stroke-width:2.6"/>
<path class="t" d="M765.3 901.0 L801.3 897.0 L793.2 928.2" style="stroke-width:1.2"/>
<path class="tw" d="M778.0 893.0 L783.0 911.0 L801.0 905.0 L797.0 890.0 Z" style="stroke-width:1.2"/>
<path class="fs" d="M784 897 l8 -3 l1 4 l-8 3 Z"/>
<path class="t" d="M747.4 971.8 Q752 975 759.1 971.8"/>
<path class="tw" d="M742.0 932.0 L732.0 933.0 L733.0 945.0 L729.7 947.0 L732.0 955.3 L742.0 952.0" style="stroke-width:1.5"/>
<circle cx="734" cy="950" r="1.8" fill="#000"/>
<path class="tw" d="M743.0 975.3 L740.0 983.0 L733.0 985.0 L732.0 991.8 L743.8 990.0" style="stroke-width:1.5"/>
<circle cx="735" cy="989" r="2" fill="none" stroke="#000" stroke-width="1.2"/>
<path class="tw" d="M727.0 1008.0 L749.0 1002.4 L756.8 1008.0 L754.3 1017.0 L731.0 1023.5 L725.0 1012.0 Z" style="stroke-width:1.7"/>
<ellipse cx="741" cy="1015.4" rx="3.2" ry="3.6" fill="#000"/>
<path class="t" d="M740 1013.5 l0.5 3" style="stroke:#fff;stroke-width:0.9"/>
<path class="fs" d="M655.2 1028.5 L727.5 1007.6 L728.6 1019.1 L660.5 1036.9 Z"/>
<path d="M661 1031 L726 1012 M663 1035 L690 1027 M700 1024 L727 1016" stroke="#fff" stroke-width="1.2" fill="none"/>
<path d="M672 1031 l12 -6 M700 1020 l10 -6 M690 1024 l6 -4" stroke="#fff" stroke-width="1.1" fill="none"/>
<path class="tw" d="M578.1 969.5 L582.4 968.6 L588.1 973.3 L589.0 972.4 L595.7 967.6 L599.5 970.5 L602.4 979.0 L607.1 979.0 L608.0 984.8 L602.4 989.5 L625.2 1017.0 L633.8 1015.2 L636.7 1021.0 L629.0 1024.8 L634.8 1036.2 L655.7 1028.6 L660.5 1043.8 L638.6 1051.4 Z" style="stroke-width:1.5"/>
<path class="k" d="M578.1 972.0 L638.6 1051.4" style="stroke-width:2.6;stroke-linecap:butt"/>
<path class="t" d="M588.1 973.3 L634.8 1036.2" style="stroke-width:1.4"/>
<path class="t" d="M584.0 973.0 L640.0 1047.0" style="stroke-width:1.1"/>
<path class="k" d="M589.0 983.0 C590.2 984.7 593.5 989.7 596.0 993.0 C598.5 996.3 602.0 1000.4 604.0 1003.0 C606.0 1005.6 607.3 1007.7 608.0 1008.6" style="stroke-width:2.6"/>
<path class="t" d="M591.0 974.0 L630.0 1026.0" style="stroke-width:1.1"/>
<circle cx="604.3" cy="983.8" r="2" fill="#fff" stroke="#000" stroke-width="1.2"/>
<circle cx="632.9" cy="1019.5" r="1.8" fill="#fff" stroke="#000" stroke-width="1.2"/>
<circle cx="581" cy="971" r="1.5" fill="#fff" stroke="#000" stroke-width="1"/>
<path class="t" d="M636.0 1038.0 L656.0 1031.0" style="stroke-width:1.2"/>
<path class="fs" d="M643.5 1040 l5 -1.5 l1 5 l-5 1.5 Z"/>
<circle cx="654" cy="1035" r="1.8" fill="#000"/>
<path class="fs" d="M504.1 471.5 L511.5 470.9 L512.5 479 L505 479.8 Z"/>
<path class="t" d="M583.8 453.6 L585.9 452" style="stroke-width:1.4"/>
<g class="lb">
<text transform="matrix(0.93 0 0 1 294.8 280.0)">3</text>

<text transform="matrix(0.93 0 0 1 288.8 476.5)">4</text>

<text transform="matrix(0.93 0 0 1 555.8 426.6)">2</text>

<path d="M848.1 350.8 h3.1 v19.2 h-3.1 v-11.7 l-5.2 1.6 v-4.1 Z" fill="#000"/>
<text transform="matrix(0.93 0 0 1 856.0 370.0)">5</text>

<path d="M762.2 417.4 h3.1 v19.2 h-3.1 v-11.7 l-5.2 1.6 v-4.1 Z" fill="#000"/>
<text transform="matrix(0.93 0 0 1 770.1 436.6)">4</text>

<path d="M85.2 551.6 h3.1 v19.2 h-3.1 v-11.7 l-5.2 1.6 v-4.1 Z" fill="#000"/>

<text transform="matrix(0.93 0 0 1 915.3 565.6)">7</text>

<text transform="matrix(0.93 0 0 1 950.3 671.5)">8</text>

<text transform="matrix(0.93 0 0 1 690.3 600.9)">5</text>

<path d="M248.0 739.5 h3.1 v19.2 h-3.1 v-11.7 l-5.2 1.6 v-4.1 Z" fill="#000"/>
<text transform="matrix(0.93 0 0 1 255.9 758.7)">6</text>

<text transform="matrix(0.93 0 0 1 395.1 777.0)">6</text>

<path d="M50.2 745.5 h3.1 v19.2 h-3.1 v-11.7 l-5.2 1.6 v-4.1 Z" fill="#000"/>
<text transform="matrix(0.93 0 0 1 58.1 764.7)">5</text>

<path d="M495.6 787.3 h3.1 v19.2 h-3.1 v-11.7 l-5.2 1.6 v-4.1 Z" fill="#000"/>
<text transform="matrix(0.93 0 0 1 503.5 806.5)">2</text>

<path d="M653.0 765.6 h3.1 v19.2 h-3.1 v-11.7 l-5.2 1.6 v-4.1 Z" fill="#000"/>
<path d="M667.0 765.6 h3.1 v19.2 h-3.1 v-11.7 l-5.2 1.6 v-4.1 Z" fill="#000"/>

<path d="M696.2 843.7 h3.1 v19.2 h-3.1 v-11.7 l-5.2 1.6 v-4.1 Z" fill="#000"/>
<text transform="matrix(0.93 0 0 1 704.1 862.9)">0</text>

<path d="M535.9 872.0 h3.1 v19.2 h-3.1 v-11.7 l-5.2 1.6 v-4.1 Z" fill="#000"/>
<text transform="matrix(0.93 0 0 1 543.8 891.2)">3</text>

<text transform="matrix(0.93 0 0 1 471.7 956.0)">9</text>

<path d="M344.7 954.1 h3.1 v19.2 h-3.1 v-11.7 l-5.2 1.6 v-4.1 Z" fill="#000"/>
<text transform="matrix(0.93 0 0 1 352.6 973.3)">8</text>

<path d="M185.9 1002.8 h3.1 v19.2 h-3.1 v-11.7 l-5.2 1.6 v-4.1 Z" fill="#000"/>
<text transform="matrix(0.93 0 0 1 193.8 1022.0)">9</text>

<path d="M532.8 1044.1 h3.1 v19.2 h-3.1 v-11.7 l-5.2 1.6 v-4.1 Z" fill="#000"/>
<text transform="matrix(0.93 0 0 1 540.7 1063.3)">7</text>

</g><!-- LEADERS -->
<g class="ld">
<path d="M313.6 278.3 L366.4 313.1"/>
<path d="M224.9 416.6 L284.3 459.7"/>
<path d="M284.8 393.6 L294.7 452.3"/>
<path d="M307.8 458.7 L450 326"/>
<path d="M496.4 393.5 L551.9 413.7"/>
<path d="M872.9 346.3 L895.7 325.7"/>
<path d="M781.4 443.4 L807 474.9"/>
<path d="M96 563.9 L174 582"/>
<path d="M911.4 572 L886.8 601.3"/>
<path d="M945.5 668.8 L900.9 690.4"/>
<path d="M685.2 603.4 L659.5 626.6"/>
<path d="M273.6 736.5 L297.7 717.6"/>
<path d="M413.5 755.7 L455.6 708.4"/>
<path d="M63 698.4 L58.7 740.2"/>
<path d="M520.8 804 L553 812.5"/>
<path d="M641.4 784.8 L621 793.4"/>
<path d="M647.8 853.6 L684.2 853.6"/>
<path d="M561.7 872.6 L584 858.5"/>
<path d="M489.7 945 L559.4 923.5"/>
<path d="M356.5 948.8 L372.5 887.5"/>
<path d="M193.3 997.9 L191.9 925.4"/>
<path d="M554.3 1038.6 L590 998.6"/>
</g>

</svg>
</body></html>
